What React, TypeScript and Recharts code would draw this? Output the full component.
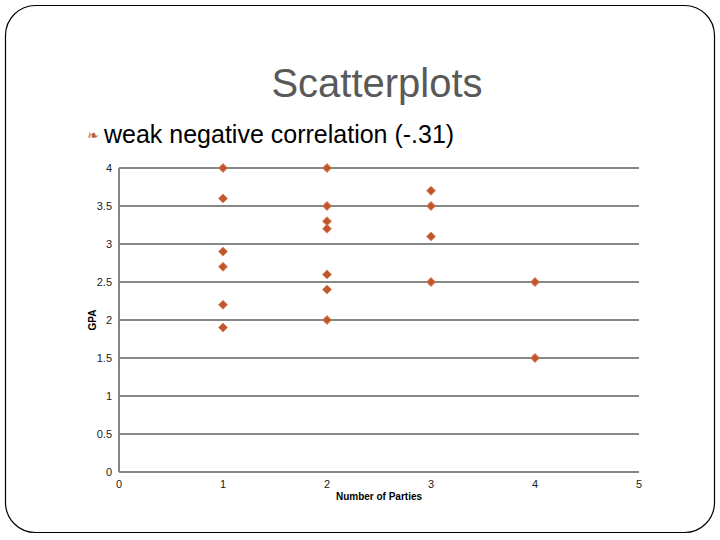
import { ScatterChart, Scatter, XAxis, YAxis, CartesianGrid } from "recharts"

// Number of Parties vs GPA
const parties = [1, 1, 1, 1, 1, 1, 2, 2, 2, 2, 2, 2, 2, 3, 3, 3, 3, 4, 4]
const gpa = [4, 3.6, 2.9, 2.7, 2.2, 1.9, 4, 3.5, 3.3, 3.2, 2.6, 2.4, 2.0, 3.7, 3.5, 3.1, 2.5, 2.5, 1.5]

const xTicks = [0, 1, 2, 3, 4, 5]
const yTicks = [0, 0.5, 1, 1.5, 2, 2.5, 3, 3.5, 4]

const points = parties.map((p, i) => ({ parties: p, gpa: gpa[i] }))

const FONT = "'Liberation Sans', Arial, sans-serif"
const MARKER = "#c0562b"

const Diamond = (props: any) => {
  const { cx, cy } = props
  const r = 4.5
  return (
    <polygon
      points={`${cx},${cy - r} ${cx + r},${cy} ${cx},${cy + r} ${cx - r},${cy}`}
      fill={MARKER}
      stroke="#d9825a"
      strokeWidth={0.8}
    />
  )
}

export default function App() {
  return (
    <div style={{ position: "fixed", left: 0, top: 0, width: 720, height: 540, background: "#fff" }}>
      <svg width={720} height={540} style={{ position: "absolute", left: 0, top: 0 }}>
        <rect x={5.5} y={5.5} width={709} height={527} rx={30} ry={30} fill="#fff" stroke="#000" strokeWidth={1.2} />
        <text x={377} y={97} textAnchor="middle" fontFamily={FONT} fontSize={40} fill="#595959">
          Scatterplots
        </text>
        <text x={87} y={140} fontFamily="'DejaVu Sans', sans-serif" fontSize={14} fill="#b5603a">
          ❧
        </text>
        <text x={104} y={143} fontFamily={FONT} fontSize={25} fill="#000">
          weak negative correlation (-.31)
        </text>
      </svg>
      <div style={{ position: "absolute", left: 0, top: 0 }}>
        <ScatterChart width={720} height={540} margin={{ top: 168, right: 81, bottom: 38, left: 79 }}>
          <CartesianGrid horizontal vertical={false} stroke="#878787" strokeWidth={2} />
          <XAxis
            type="number"
            dataKey="parties"
            domain={[0, 5]}
            ticks={xTicks}
            height={30}
            axisLine={{ stroke: "#878787", strokeWidth: 2 }}
            tickLine={false}
            tickSize={0}
            tickMargin={8}
            tick={{ fontFamily: FONT, fontSize: 11, fill: "#222" }}
            label={{
              value: "Number of Parties",
              position: "insideBottom",
              offset: 2,
              style: { fontFamily: FONT, fontSize: 10, fontWeight: "bold", fill: "#000" },
            }}
          />
          <YAxis
            type="number"
            dataKey="gpa"
            domain={[0, 4]}
            ticks={yTicks}
            width={40}
            axisLine={{ stroke: "#878787", strokeWidth: 2 }}
            tickLine={false}
            tickSize={0}
            tickMargin={7}
            tick={{ fontFamily: FONT, fontSize: 11, fill: "#222" }}
            label={{
              value: "GPA",
              angle: -90,
              position: "insideLeft",
              offset: 13,
              style: { fontFamily: FONT, fontSize: 10, fontWeight: "bold", fill: "#000", textAnchor: "middle" },
            }}
          />
          <Scatter data={points} shape={Diamond} isAnimationActive={false} />
        </ScatterChart>
      </div>
    </div>
  )
}
